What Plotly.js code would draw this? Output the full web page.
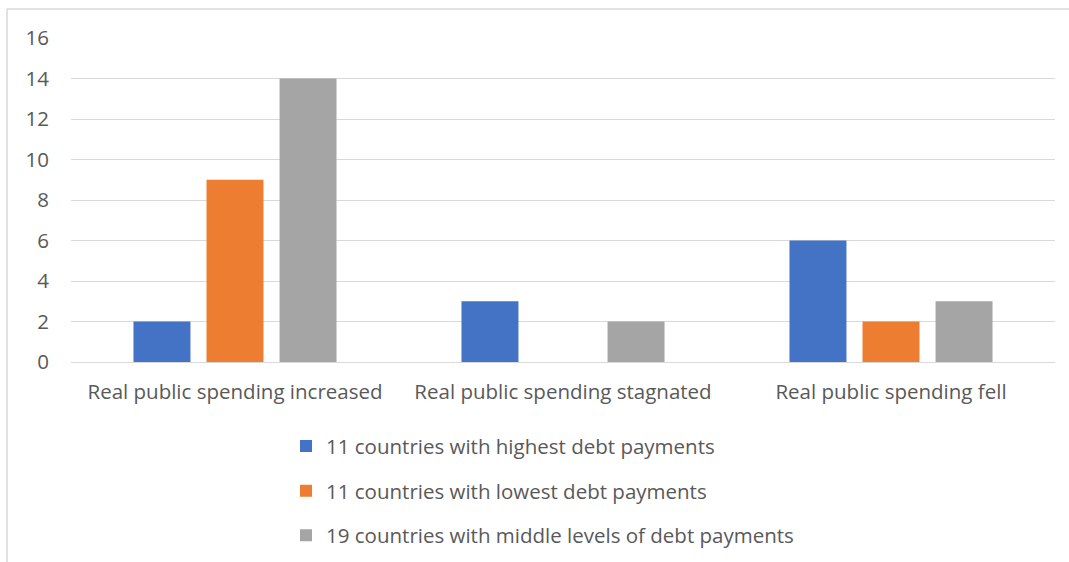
<!DOCTYPE html>
<html>
<head>
<meta charset="utf-8">
<script src="https://cdn.plot.ly/plotly-3.0.1.min.js"></script>
<style>html,body{margin:0;padding:0;background:#fff}#chart{width:1069px;height:562px}</style>
</head>
<body>
<div id="chart"></div>
<script>
const categories = ["Real public spending increased", "Real public spending stagnated", "Real public spending fell"];
const seriesNames = ["11 countries with highest debt payments", "11 countries with lowest debt payments", "19 countries with middle levels of debt payments"];
const highestDebt = [2, 3, 6];
const lowestDebt = [9, 0, 2];
const middleDebt = [14, 2, 3];
const colors = ["#4472C4", "#ED7D31", "#A5A5A5"];
const yTicks = [0, 2, 4, 6, 8, 10, 12, 14, 16];

const values = [highestDebt, lowestDebt, middleDebt];
const traces = values.map((v, i) => ({
  type: "bar",
  x: categories,
  y: v,
  name: seriesNames[i],
  legendgroup: "g" + i,
  marker: {color: colors[i]},
  hoverinfo: "x+y+name"
}));

const font = "Open Sans, Liberation Sans, sans-serif";
const fs = 20.5;
const layout = {
  width: 1069,
  height: 562,
  margin: {l: 71, r: 14, t: 38, b: 200, autoexpand: false},
  paper_bgcolor: "#fff",
  plot_bgcolor: "#fff",
  barmode: "group",
  bargap: 0.332,
  bargroupgap: 0.22,
  font: {family: font, size: fs, color: "#595959"},
  xaxis: {
    type: "category",
    showgrid: false,
    showline: false,
    zeroline: false,
    ticks: "",
    tickfont: {family: font, size: fs, color: "#595959"},
    ticklabelstandoff: 15
  },
  yaxis: {
    range: [0, 16],
    tickvals: yTicks,
    ticktext: yTicks.map(String),
    showgrid: true,
    gridcolor: "#d9d9d9",
    gridwidth: 1,
    zeroline: true,
    zerolinecolor: "#d9d9d9",
    zerolinewidth: 1,
    showline: false,
    ticks: "",
    tickfont: {family: font, size: fs, color: "#595959"},
    ticklabelstandoff: 21
  },
  legend: {
    orientation: "v",
    x: 0.2185,
    xanchor: "left",
    y: -0.198,
    yanchor: "top",
    tracegroupgap: 15,
    font: {family: font, size: fs, color: "#595959"},
    bgcolor: "rgba(0,0,0,0)"
  },
  showlegend: true,
  shapes: [
    {type: "line", xref: "paper", yref: "paper", x0: (7 - 71) / 984, x1: (7 - 71) / 984, y0: (362 - 9) / 324, y1: (362 - 570) / 324, line: {color: "#d9d9d9", width: 1.5}, layer: "below"},
    {type: "line", xref: "paper", yref: "paper", x0: (7 - 71) / 984, x1: (1069 - 71) / 984, y0: (362 - 9) / 324, y1: (362 - 9) / 324, line: {color: "#d9d9d9", width: 1.5}, layer: "below"}
  ]
};

Plotly.newPlot("chart", traces, layout, {displayModeBar: false, staticPlot: true});
</script>
</body>
</html>
